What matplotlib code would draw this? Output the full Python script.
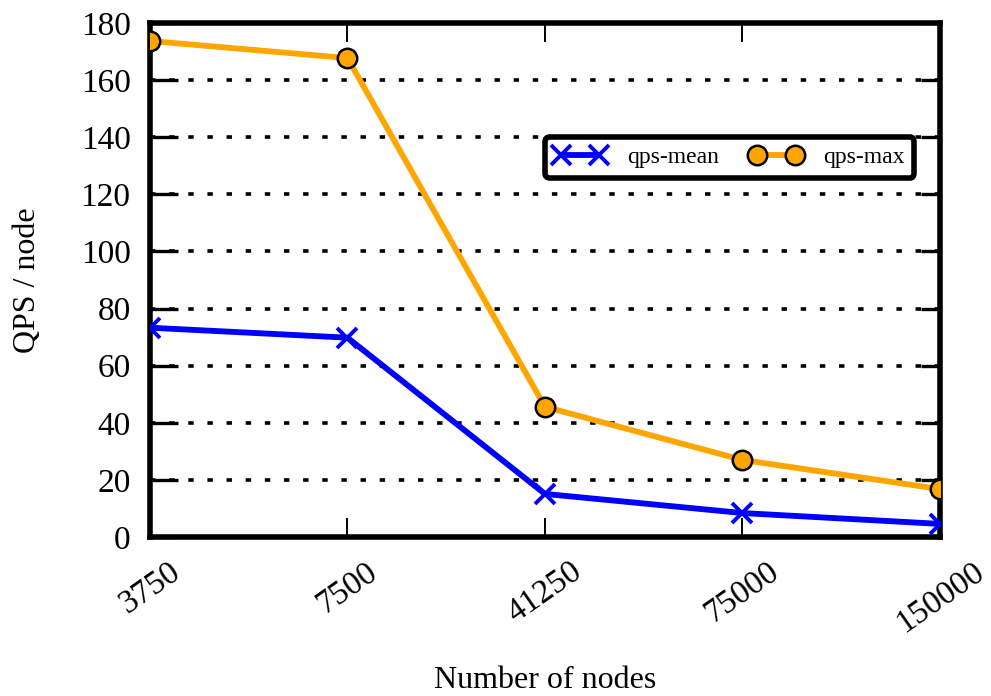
import matplotlib
matplotlib.use('Agg')
import matplotlib.pyplot as plt

# Values
node_counts = ['3750', '7500', '41250', '75000', '150000']
qps_mean = [73.3, 69.8, 15.1, 8.4, 4.6]
qps_max = [173.7, 167.7, 45.6, 27.0, 16.8]
y_ticks = [0, 20, 40, 60, 80, 100, 120, 140, 160, 180]

plt.rcParams['font.family'] = ['Liberation Serif', 'DejaVu Serif']

fig = plt.figure(figsize=(9.91, 6.96), dpi=100)
ax = fig.add_axes([0.1514, 0.2284, 0.797, 0.7386])

x = list(range(len(node_counts)))

# Dotted horizontal grid, gnuplot style
ax.set_yticks(y_ticks)
ax.grid(axis='y', color='black', linewidth=2.6, linestyle=(0, (1.5, 3.8)))
ax.set_axisbelow(True)

ax.plot(x, qps_mean, color='#0000ff', linewidth=4.2, marker='x',
        markersize=15, markeredgewidth=2.8, label='qps-mean', zorder=3)
ax.plot(x, qps_max, color='#ffa500', linewidth=4.2, marker='o',
        markersize=14, markerfacecolor='#ffa500', markeredgecolor='black',
        markeredgewidth=1.8, label='qps-max', zorder=4)

ax.set_xlim(0, len(node_counts) - 1)
ax.set_ylim(0, 180)
ax.set_xticks(x)
ax.set_xticklabels(node_counts, rotation=35, ha='center')

for side in ax.spines.values():
    side.set_linewidth(4)

ax.tick_params(axis='y', direction='in', length=20, width=2.4, left=True,
               right=True, labelsize=24, pad=14)
ax.tick_params(axis='x', direction='in', length=14, width=1.4, bottom=True,
               top=True, labelsize=24, pad=14)
for t in ax.yaxis.get_major_ticks():
    t.tick2line.set_markersize(14)

ax.set_ylabel('QPS / node', fontsize=23, labelpad=28)
ax.set_xlabel('Number of nodes', fontsize=23, labelpad=20)

leg = ax.legend(loc='upper left', bbox_to_anchor=(0.5, 0.778), ncol=2,
                numpoints=2, fontsize=17, frameon=True, fancybox=True,
                handlelength=2.2, columnspacing=1.3, handletextpad=0.9,
                borderpad=0.4, borderaxespad=0)
frame = leg.get_frame()
frame.set_edgecolor('black')
frame.set_linewidth(4)
frame.set_alpha(1)

fig.savefig('out.png', dpi=100)
